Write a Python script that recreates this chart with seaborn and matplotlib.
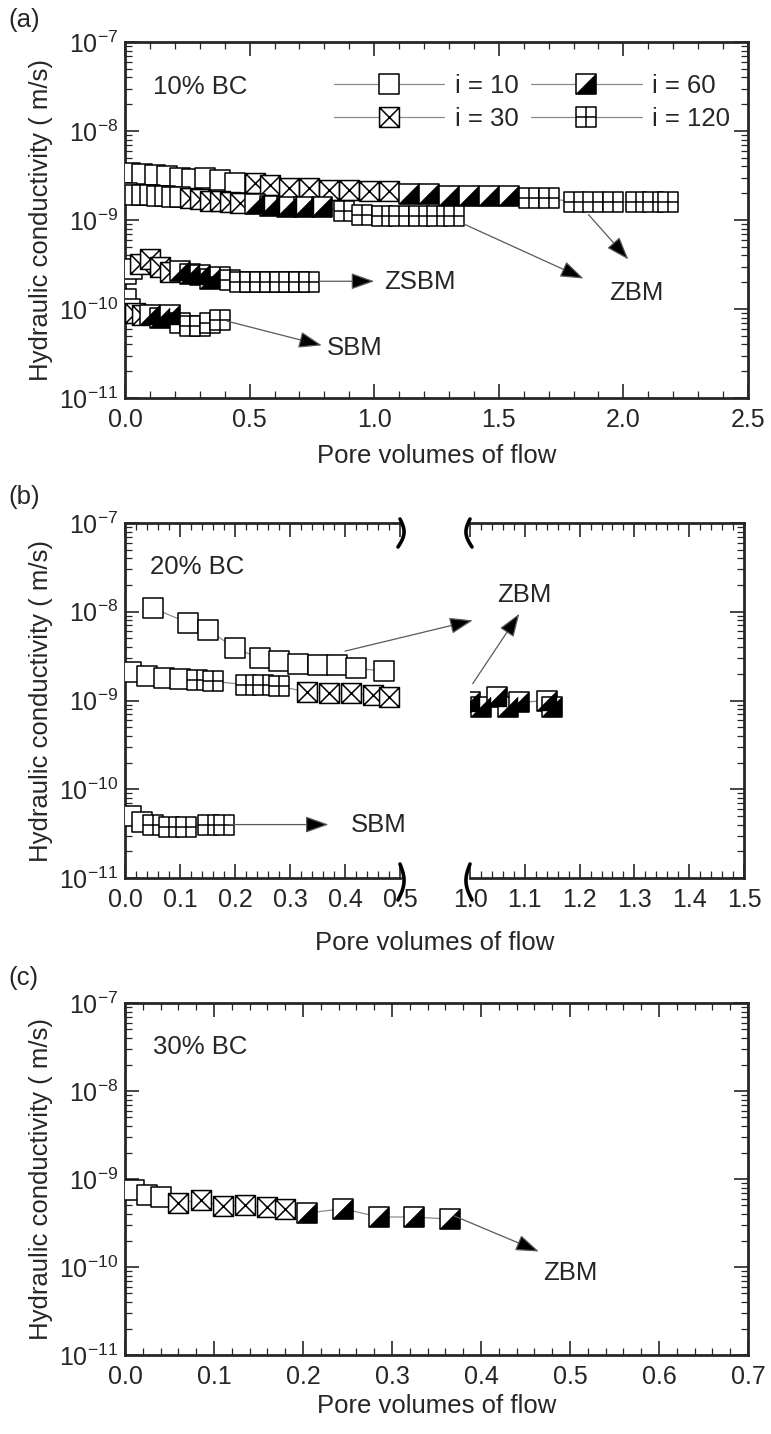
import numpy as np
import pandas as pd
import matplotlib
matplotlib.use("Agg")
import matplotlib.pyplot as plt
import seaborn as sns
from matplotlib.path import Path
from matplotlib.lines import Line2D
from matplotlib.legend_handler import HandlerTuple
from matplotlib.patches import ConnectionPatch
from matplotlib.ticker import LogLocator, MultipleLocator, FuncFormatter, NullFormatter

# ---------------- data ----------------
grad_codes = [10, 30, 60, 120]
grad_labels = ["i = 10", "i = 30", "i = 60", "i = 120"]

# panel (a): 10% BC
a_zbm1_x = [0.02, 0.07, 0.12, 0.17, 0.22, 0.27, 0.32, 0.38, 0.44,
            0.52, 0.58, 0.66, 0.74, 0.82, 0.90, 0.98, 1.06,
            1.14, 1.22, 1.30, 1.38, 1.46, 1.54,
            1.62, 1.70, 1.80, 1.88, 1.96, 2.05, 2.12, 2.18]
a_zbm1_k = [3.4e-9, 3.3e-9, 3.2e-9, 3.1e-9, 3.0e-9, 2.9e-9, 3.0e-9, 2.8e-9, 2.6e-9,
            2.6e-9, 2.5e-9, 2.3e-9, 2.3e-9, 2.2e-9, 2.2e-9, 2.1e-9, 2.1e-9,
            1.95e-9, 1.95e-9, 1.85e-9, 1.85e-9, 1.85e-9, 1.85e-9,
            1.75e-9, 1.75e-9, 1.6e-9, 1.6e-9, 1.6e-9, 1.6e-9, 1.6e-9, 1.6e-9]
a_zbm1_i = [10, 10, 10, 10, 10, 10, 10, 10, 10,
            30, 30, 30, 30, 30, 30, 30, 30,
            60, 60, 60, 60, 60, 60,
            120, 120, 120, 120, 120, 120, 120, 120]

a_zbm2_x = [0.01, 0.04, 0.07, 0.10, 0.13, 0.16, 0.19, 0.22,
            0.26, 0.30, 0.34, 0.38, 0.42, 0.46,
            0.52, 0.58, 0.65, 0.72, 0.79,
            0.88, 0.95, 1.03, 1.10, 1.18, 1.25, 1.32]
a_zbm2_k = [2.0e-9, 1.9e-9, 1.9e-9, 1.9e-9, 1.85e-9, 1.85e-9, 1.8e-9, 1.8e-9,
            1.75e-9, 1.7e-9, 1.65e-9, 1.65e-9, 1.6e-9, 1.55e-9,
            1.5e-9, 1.45e-9, 1.4e-9, 1.4e-9, 1.4e-9,
            1.25e-9, 1.15e-9, 1.1e-9, 1.1e-9, 1.1e-9, 1.1e-9, 1.1e-9]
a_zbm2_i = [10, 10, 10, 10, 10, 10, 10, 10,
            30, 30, 30, 30, 30, 30,
            60, 60, 60, 60, 60,
            120, 120, 120, 120, 120, 120, 120]

a_zsbm_x = [0.005, 0.03, 0.06, 0.10, 0.14, 0.18, 0.22, 0.26, 0.30, 0.34,
            0.38, 0.42, 0.46, 0.50, 0.54, 0.58, 0.62, 0.66, 0.70, 0.74]
a_zsbm_k = [2.5e-10, 2.8e-10, 3.2e-10, 3.6e-10, 3.0e-10, 2.6e-10, 2.7e-10, 2.5e-10, 2.4e-10, 2.2e-10,
            2.3e-10, 2.1e-10, 2.0e-10, 2.0e-10, 2.0e-10, 2.0e-10, 2.0e-10, 2.0e-10, 2.0e-10, 2.0e-10]
a_zsbm_i = [10, 10, 30, 30, 30, 30, 60, 60, 60, 60,
            120, 120, 120, 120, 120, 120, 120, 120, 120, 120]

a_sbm_x = [0.005, 0.02, 0.04, 0.07, 0.10, 0.14, 0.18, 0.22, 0.26, 0.30, 0.34, 0.38]
a_sbm_k = [1.3e-10, 1.0e-10, 9.0e-11, 8.5e-11, 8.5e-11, 8.0e-11, 8.5e-11,
           7.0e-11, 6.5e-11, 6.5e-11, 7.0e-11, 7.5e-11]
a_sbm_i = [10, 10, 30, 30, 60, 60, 60, 120, 120, 120, 120, 120]

# panel (b): 20% BC (broken x axis)
b_zbm1_x = [0.05, 0.115, 0.15, 0.20, 0.245, 0.28, 0.315, 0.35, 0.385, 0.42, 0.47,
            1.00, 1.02, 1.05, 1.07, 1.09, 1.14, 1.15]
b_zbm1_k = [1.1e-8, 7.5e-9, 6.3e-9, 3.9e-9, 3.0e-9, 2.8e-9, 2.6e-9, 2.5e-9, 2.5e-9, 2.3e-9, 2.15e-9,
            9.5e-10, 8.5e-10, 1.1e-9, 8.5e-10, 9.5e-10, 1.0e-9, 8.5e-10]
b_zbm1_i = [10, 10, 10, 10, 10, 10, 10, 10, 10, 10, 10,
            60, 60, 60, 60, 60, 60, 60]

b_zbm2_x = [0.01, 0.04, 0.07, 0.10, 0.13, 0.16, 0.22, 0.25, 0.28,
            0.33, 0.37, 0.41, 0.45, 0.48]
b_zbm2_k = [2.1e-9, 1.9e-9, 1.8e-9, 1.75e-9, 1.7e-9, 1.65e-9, 1.5e-9, 1.5e-9, 1.45e-9,
            1.25e-9, 1.2e-9, 1.2e-9, 1.15e-9, 1.1e-9]
b_zbm2_i = [10, 10, 10, 10, 120, 120, 120, 120, 120,
            30, 30, 30, 30, 30]

b_sbm_x = [0.01, 0.03, 0.05, 0.08, 0.11, 0.15, 0.18]
b_sbm_k = [5.0e-11, 4.3e-11, 4.0e-11, 3.8e-11, 3.8e-11, 4.0e-11, 4.0e-11]
b_sbm_i = [10, 10, 120, 120, 120, 120, 120]

# panel (c): 30% BC
c_zbm_x = [0.01, 0.025, 0.04, 0.06, 0.085, 0.11, 0.135, 0.16, 0.18,
           0.205, 0.245, 0.285, 0.325, 0.365]
c_zbm_k = [7.5e-10, 6.5e-10, 6.2e-10, 5.4e-10, 5.7e-10, 4.9e-10, 5.0e-10, 4.8e-10, 4.6e-10,
           4.1e-10, 4.6e-10, 3.7e-10, 3.7e-10, 3.5e-10]
c_zbm_i = [10, 10, 10, 30, 30, 30, 30, 30, 30, 60, 60, 60, 60, 60]

# ---------------- style ----------------
sns.set_style("ticks")
plt.rcParams["font.family"] = ["Liberation Sans", "DejaVu Sans"]
plt.rcParams["mathtext.fontset"] = "custom"
plt.rcParams["mathtext.rm"] = "Liberation Sans"
plt.rcParams["mathtext.it"] = "Liberation Sans:italic"
plt.rcParams["mathtext.bf"] = "Liberation Sans:bold"

FS_TICK = 18
FS_LAB = 18.5
FS_ANN = 18.5

# marker paths
M, L, C = Path.MOVETO, Path.LINETO, Path.CLOSEPOLY
sq_v = [(-1, -1), (1, -1), (1, 1), (-1, 1), (-1, -1)]
sq_c = [M, L, L, L, C]
SQ = Path(sq_v, sq_c)
XSQ = Path(sq_v + [(-1, -1), (1, 1), (-1, 1), (1, -1)], sq_c + [M, L, M, L])
GSQ = Path(sq_v + [(0, -1), (0, 1), (-1, 0), (1, 0)], sq_c + [M, L, M, L])
TRI = Path([(1, 1), (1, -1), (-1, -1), (1, 1)], [M, L, L, C])
MARK = {10: SQ, 30: XSQ, 60: SQ, 120: GSQ}
MS = 205  # points^2
LINE_C = "0.55"


def series(ax, xs, ks, gs, xlim):
    df = pd.DataFrame({"x": xs, "k": ks, "g": gs})
    df = df[(df.x >= xlim[0]) & (df.x <= xlim[1])]
    if len(df) == 0:
        return
    sns.lineplot(data=df, x="x", y="k", sort=False, estimator=None, color=LINE_C,
                 lw=0.9, ax=ax, zorder=2, legend=False)
    for g in grad_codes:
        sub = df[df.g == g]
        if len(sub) == 0:
            continue
        sns.scatterplot(data=sub, x="x", y="k", marker=MARK[g], s=MS, color="white",
                        edgecolor="black", linewidth=1.1, ax=ax, zorder=3, legend=False)
        if g == 60:
            sns.scatterplot(data=sub, x="x", y="k", marker=TRI, s=MS, color="black",
                            edgecolor="black", linewidth=0.3, ax=ax, zorder=4, legend=False)


def log_fmt(v, pos):
    return r"$10^{%d}$" % int(round(np.log10(v)))


def style_axes(ax, xmaj, xmin, left=True, right=True):
    ax.set_yscale("log")
    ax.set_ylim(1e-11, 1e-7)
    ax.yaxis.set_major_locator(LogLocator(base=10, numticks=10))
    ax.yaxis.set_minor_locator(LogLocator(base=10, subs=np.arange(2, 10), numticks=50))
    ax.yaxis.set_major_formatter(FuncFormatter(log_fmt))
    ax.yaxis.set_minor_formatter(NullFormatter())
    ax.xaxis.set_major_locator(MultipleLocator(xmaj))
    ax.xaxis.set_minor_locator(MultipleLocator(xmin))
    ax.tick_params(which="both", direction="in", top=True, bottom=True,
                   left=left, right=right, labelleft=left, labelright=False,
                   labelsize=FS_TICK, pad=5)
    ax.tick_params(axis="x", which="both", pad=7)
    ax.tick_params(which="major", length=10, width=1.2)
    ax.tick_params(which="minor", length=5, width=0.9)
    for s in ax.spines.values():
        s.set_linewidth(2.0)
    ax.set_xlabel("")
    ax.set_ylabel("")


def arrow(ax, p0, p1):
    ax.annotate("", xy=p1, xytext=p0,
                arrowprops=dict(arrowstyle="-|>,head_length=0.9,head_width=0.32",
                                edgecolor="0.35", facecolor="black", lw=0.9,
                                shrinkA=0, shrinkB=0, mutation_scale=16),
                zorder=5)


W, H = 771, 1434
fig = plt.figure(figsize=(W / 100, H / 100), dpi=100)


def pos(l, t, r, b):
    return [l / W, 1 - b / H, (r - l) / W, (b - t) / H]


# ---------------- panel (a) ----------------
axA = fig.add_axes(pos(125, 42, 748, 398))
axA.set_yscale("log")
for xs, ks, gs in [(a_zbm1_x, a_zbm1_k, a_zbm1_i), (a_zbm2_x, a_zbm2_k, a_zbm2_i),
                   (a_zsbm_x, a_zsbm_k, a_zsbm_i), (a_sbm_x, a_sbm_k, a_sbm_i)]:
    series(axA, xs, ks, gs, (0, 2.5))
style_axes(axA, 0.5, 0.1)
axA.set_xlim(0, 2.5)
axA.xaxis.set_major_formatter(FuncFormatter(lambda v, p: f"{v:.1f}"))
axA.text(0.045, 0.875, "10% BC", transform=axA.transAxes, fontsize=FS_ANN, va="center")
arrow(axA, (0.78, 2.05e-10), (1.0, 2.05e-10))
axA.text(1.04, 2.0e-10, "ZSBM", fontsize=FS_ANN, va="center", ha="left")
arrow(axA, (0.41, 7.3e-11), (0.79, 3.9e-11))
axA.text(0.81, 3.6e-11, "SBM", fontsize=FS_ANN, va="center", ha="left")
arrow(axA, (1.36, 9.0e-10), (1.84, 2.2e-10))
arrow(axA, (1.86, 1.15e-9), (2.02, 3.6e-10))
axA.text(2.05, 1.5e-10, "ZBM", fontsize=FS_ANN, va="center", ha="center")

ms_pt = np.sqrt(MS)
hl = dict(color=LINE_C, lw=0.9, mfc="white", mec="black", mew=1.1, ms=ms_pt)
h10 = Line2D([], [], marker=SQ, **hl)
h30 = Line2D([], [], marker=XSQ, **hl)
h60 = (Line2D([], [], marker=SQ, **hl),
       Line2D([], [], marker=TRI, ls="none", mfc="black", mec="black", mew=0.3, ms=ms_pt))
h120 = Line2D([], [], marker=GSQ, **hl)
axA.legend([h10, h30, h60, h120], grad_labels, ncol=2, loc="upper right",
           bbox_to_anchor=(1.0, 0.96), frameon=False, fontsize=FS_ANN,
           handlelength=4.3, columnspacing=0.5, handletextpad=0.4, labelspacing=0.35,
           borderaxespad=0.3,
           handler_map={tuple: HandlerTuple(ndivide=1, pad=0)})
axA.set_ylabel("Hydraulic conductivity ( m/s)", fontsize=FS_LAB, labelpad=4)
axA.set_xlabel("Pore volumes of flow", fontsize=FS_LAB, labelpad=9)

# ---------------- panel (b) ----------------
axBL = fig.add_axes(pos(125, 523, 400, 878))
axBR = fig.add_axes(pos(470, 523, 744, 878))
for ax, lim in [(axBL, (0, 0.5)), (axBR, (1.0, 1.5))]:
    ax.set_yscale("log")
    for xs, ks, gs in [(b_zbm1_x, b_zbm1_k, b_zbm1_i), (b_zbm2_x, b_zbm2_k, b_zbm2_i),
                       (b_sbm_x, b_sbm_k, b_sbm_i)]:
        series(ax, xs, ks, gs, lim)
style_axes(axBL, 0.1, 0.02, left=True, right=False)
style_axes(axBR, 0.1, 0.02, left=False, right=True)
axBL.set_xlim(0, 0.5)
axBR.set_xlim(1.0, 1.5)
for ax in (axBL, axBR):
    ax.xaxis.set_major_formatter(FuncFormatter(lambda v, p: f"{v:.1f}"))
axBL.spines["right"].set_visible(False)
axBR.spines["left"].set_visible(False)
axBL.text(0.09, 0.875, "20% BC", transform=axBL.transAxes, fontsize=FS_ANN, va="center")
arrow(axBL, (0.19, 4.0e-11), (0.37, 4.0e-11))
axBL.text(0.41, 4.0e-11, "SBM", fontsize=FS_ANN, va="center", ha="left")
con = ConnectionPatch(xyA=(0.40, 3.6e-9), coordsA=axBL.transData,
                      xyB=(1.005, 8.0e-9), coordsB=axBR.transData,
                      arrowstyle="-|>,head_length=0.9,head_width=0.32",
                      edgecolor="0.35", facecolor="black", lw=0.9,
                      shrinkA=0, shrinkB=0, mutation_scale=16, zorder=5)
fig.add_artist(con)
arrow(axBR, (1.005, 1.55e-9), (1.09, 9.5e-9))
axBR.text(1.10, 1.55e-8, "ZBM", fontsize=FS_ANN, va="center", ha="center")
axBL.set_ylabel("Hydraulic conductivity ( m/s)", fontsize=FS_LAB, labelpad=4)

# break marks
t = np.linspace(0, 1, 30)
for ax, xa, sgn, wpx in [(axBL, 1.0, 1, 275), (axBR, 0.0, -1, 274)]:
    for ya, top in [(1.0, True), (0.0, False)]:
        if top:
            dy = 4 - 28 * t
        else:
            dy = 14 - 36 * t
        dx = sgn * 5 * np.sin(np.pi * t) - sgn * 2 * t
        ax.plot(xa + dx / wpx, ya + dy / 355, color="black", lw=2.6,
                transform=ax.transAxes, clip_on=False, zorder=6, solid_capstyle="round")

bx0, bx1 = axBL.get_position().x0, axBR.get_position().x1
fig.text((bx0 + bx1) / 2, 1 - 943 / H, "Pore volumes of flow", ha="center", va="center",
         fontsize=FS_LAB)

# ---------------- panel (c) ----------------
axC = fig.add_axes(pos(125, 1003, 748, 1355))
axC.set_yscale("log")
series(axC, c_zbm_x, c_zbm_k, c_zbm_i, (0, 0.7))
style_axes(axC, 0.1, 0.02)
axC.set_xlim(0, 0.7)
axC.xaxis.set_major_formatter(FuncFormatter(lambda v, p: f"{v:.1f}"))
axC.text(0.045, 0.875, "30% BC", transform=axC.transAxes, fontsize=FS_ANN, va="center")
arrow(axC, (0.37, 3.8e-10), (0.465, 1.5e-10))
axC.text(0.50, 8.5e-11, "ZBM", fontsize=FS_ANN, va="center", ha="center")
axC.set_ylabel("Hydraulic conductivity ( m/s)", fontsize=FS_LAB, labelpad=4)
axC.set_xlabel("Pore volumes of flow", fontsize=FS_LAB, labelpad=4)

# panel letters
for lab, ypx in [("(a)", 20), ("(b)", 497), ("(c)", 978)]:
    fig.text(8 / W, 1 - ypx / H, lab, fontsize=FS_ANN, va="center", ha="left")

fig.savefig("out.png", dpi=100)
